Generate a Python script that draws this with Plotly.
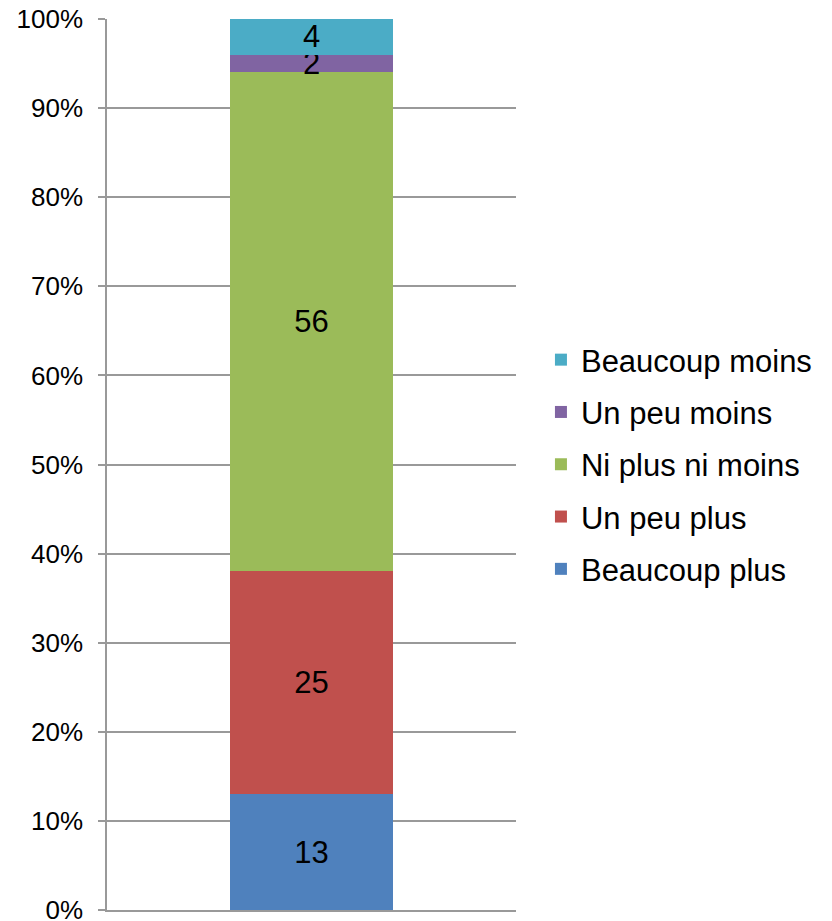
import plotly.graph_objects as go

categories = [""]
series_names = ["Beaucoup plus", "Un peu plus", "Ni plus ni moins", "Un peu moins", "Beaucoup moins"]
series_values = [[13], [25], [56], [2], [4]]
series_colors = ["#4F81BD", "#C0504D", "#9BBB59", "#8064A2", "#4BACC6"]
tick_values = list(range(0, 101, 10))
tick_labels = [f"{v}%" for v in tick_values]

FONT = "Liberation Sans, Arial, sans-serif"

fig = go.Figure()
n = len(series_names)
for i, (name, vals, col) in enumerate(zip(series_names, series_values, series_colors)):
    fig.add_trace(go.Bar(
        x=categories, y=vals, name=name, legendgroup=name, legendrank=n - i,
        marker=dict(color=col, line=dict(width=0)),
        text=[str(v) for v in vals], textposition="inside",
        insidetextanchor="middle", textangle=0, constraintext="none",
        textfont=dict(family=FONT, size=31, color="#000000"),
        hoverinfo="skip",
    ))

fig.update_layout(
    width=832, height=921,
    barmode="stack", bargap=0.6,
    plot_bgcolor="white", paper_bgcolor="white",
    margin=dict(l=99, r=324, t=11, b=19, autoexpand=False),
    font=dict(family=FONT, color="#000000"),
    showlegend=True,
    legend=dict(
        x=1.061, xanchor="left", y=0.5, yanchor="middle",
        traceorder="grouped", tracegroupgap=9,
        font=dict(family=FONT, size=31, color="#000000"),
        itemwidth=30, bgcolor="rgba(0,0,0,0)",
    ),
    xaxis=dict(showticklabels=False, showgrid=False, zeroline=False, automargin=False,
               showline=True, linecolor="#999999", linewidth=1.5, ticks=""),
    yaxis=dict(range=[0, 100], tickvals=tick_values, ticktext=tick_labels,
               automargin=False, ticklabeloverflow="allow", ticklabelstandoff=10,
               showgrid=True, gridcolor="#999999", gridwidth=1.5,
               zeroline=False, showline=True, linecolor="#999999", linewidth=1.5,
               ticks="outside", ticklen=7, tickcolor="#999999", tickwidth=1.5,
               tickfont=dict(family=FONT, size=26, color="#000000")),
)

fig.write_html("out.html")
